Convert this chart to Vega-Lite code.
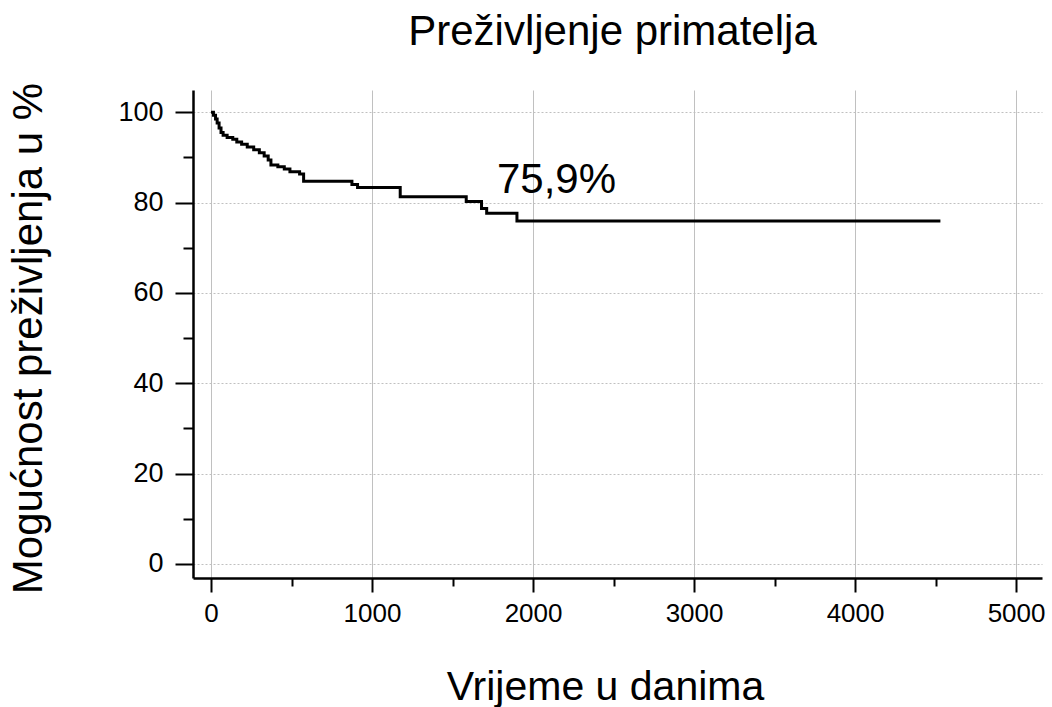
{
  "$schema": "https://vega.github.io/schema/vega-lite/v6.json",
  "autosize": {"type": "none"},
  "width": 849,
  "height": 488,
  "padding": {"left": 193, "top": 90, "right": 10, "bottom": 129},
  "background": "white",
  "config": {
    "font": "Liberation Sans",
    "view": {"stroke": null}
  },
  "title": {
    "text": "Preživljenje primatelja",
    "font": "Liberation Sans",
    "fontSize": 42,
    "fontWeight": "normal",
    "color": "black",
    "anchor": "middle",
    "baseline": "alphabetic",
    "offset": 1,
    "dx": -5,
    "dy": 6
  },
  "datasets": {
    "km": [
      {"day": 0, "surv": 100},
      {"day": 15, "surv": 99.3},
      {"day": 28, "surv": 98.5},
      {"day": 38, "surv": 97.6},
      {"day": 50, "surv": 96.5},
      {"day": 62, "surv": 95.5},
      {"day": 75, "surv": 94.9},
      {"day": 100, "surv": 94.4},
      {"day": 135, "surv": 94.0},
      {"day": 160, "surv": 93.4},
      {"day": 190, "surv": 92.9},
      {"day": 225, "surv": 92.3},
      {"day": 265, "surv": 91.7},
      {"day": 300, "surv": 91.0},
      {"day": 330, "surv": 90.3},
      {"day": 355, "surv": 89.4},
      {"day": 372, "surv": 88.3},
      {"day": 415, "surv": 87.9},
      {"day": 455, "surv": 87.4},
      {"day": 490, "surv": 86.8},
      {"day": 550, "surv": 86.3},
      {"day": 575, "surv": 84.7},
      {"day": 875, "surv": 84.0},
      {"day": 910, "surv": 83.3},
      {"day": 1175, "surv": 81.3},
      {"day": 1585, "surv": 80.2},
      {"day": 1680, "surv": 78.7},
      {"day": 1712, "surv": 77.6},
      {"day": 1900, "surv": 75.9},
      {"day": 4530, "surv": 75.9}
    ],
    "note": [
      {"day": 1776, "surv": 82.1, "label": "75,9%"}
    ]
  },
  "layer": [
    {
      "data": {"name": "km"},
      "mark": {"type": "line", "interpolate": "step-after", "color": "black", "strokeWidth": 3},
      "encoding": {
        "x": {
          "field": "day",
          "type": "quantitative",
          "scale": {"domain": [-112, 5161], "nice": false, "zero": false},
          "axis": {
            "title": "Vrijeme u danima",
            "titleFont": "Liberation Sans",
            "titleFontSize": 41,
            "titleFontWeight": "normal",
            "titleColor": "black",
            "titleAnchor": "middle",
            "titleBaseline": "alphabetic",
            "titleX": 412,
            "titleY": 121,
            "values": [0, 500, 1000, 1500, 2000, 2500, 3000, 3500, 4000, 4500, 5000],
            "labelExpr": "datum.value % 1000 === 0 ? datum.value : ''",
            "labelFontSize": 26,
            "labelColor": "black",
            "labelPadding": 8,
            "labelFlush": false,
            "labelOverlap": false,
            "tickSize": {"condition": {"test": "datum.value % 1000 === 0", "value": 14}, "value": 8},
            "tickColor": "black",
            "tickWidth": 2,
            "domainColor": "black",
            "domainWidth": 2.5,
            "grid": true,
            "gridColor": "#c0c0c0",
            "gridWidth": 1,
            "gridOpacity": {"condition": {"test": "datum.value % 1000 === 0", "value": 1}, "value": 0}
          }
        },
        "y": {
          "field": "surv",
          "type": "quantitative",
          "scale": {"domain": [-3.1, 104.9], "nice": false, "zero": false},
          "axis": {
            "title": "Mogućnost preživljenja u %",
            "titleFont": "Liberation Sans",
            "titleFontSize": 42,
            "titleFontWeight": "normal",
            "titleColor": "black",
            "titleAnchor": "middle",
            "titleAngle": -90,
            "titleAlign": "center",
            "titleBaseline": "alphabetic",
            "titleX": -152,
            "titleY": 248,
            "values": [0, 10, 20, 30, 40, 50, 60, 70, 80, 90, 100],
            "labelExpr": "datum.value % 20 === 0 ? datum.value : ''",
            "labelFontSize": 27,
            "labelColor": "black",
            "labelPadding": 12,
            "labelFlush": false,
            "labelOverlap": false,
            "tickSize": {"condition": {"test": "datum.value % 20 === 0", "value": 18}, "value": 10},
            "tickColor": "black",
            "tickWidth": 2,
            "domainColor": "black",
            "domainWidth": 2.5,
            "grid": true,
            "gridColor": "#c0c0c0",
            "gridWidth": 1,
            "gridDash": [2, 2],
            "gridOpacity": {"condition": {"test": "datum.value % 20 === 0", "value": 1}, "value": 0}
          }
        }
      }
    },
    {
      "data": {"name": "note"},
      "mark": {"type": "text", "align": "left", "baseline": "alphabetic", "fontSize": 42, "font": "Liberation Sans", "color": "black"},
      "encoding": {
        "x": {"field": "day", "type": "quantitative"},
        "y": {"field": "surv", "type": "quantitative"},
        "text": {"field": "label", "type": "nominal"}
      }
    }
  ]
}
